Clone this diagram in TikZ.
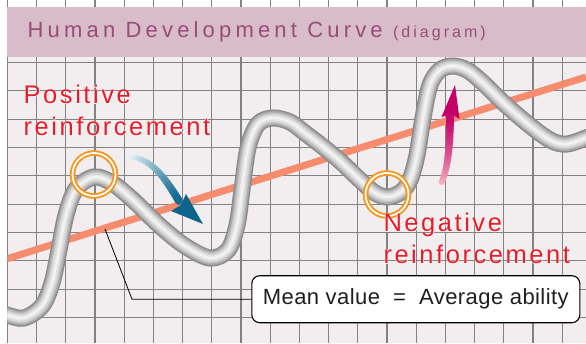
\documentclass[tikz,border=0pt]{standalone}
\usepackage{fontspec}
\setmainfont{Liberation Sans}
\newfontfamily\titlefont[LetterSpace=19]{Liberation Sans}
\newfontfamily\notefont[LetterSpace=10]{Liberation Sans}
\newfontfamily\halofont[LetterSpace=10,FakeBold=3]{Liberation Sans}
\newfontfamily\boxfont[LetterSpace=2]{Liberation Sans}
\definecolor{paper}{RGB}{242,237,239}
\definecolor{gridgray}{RGB}{130,130,130}
\definecolor{barpink}{RGB}{216,188,201}
\definecolor{titleplum}{RGB}{152,76,120}
\definecolor{meanorange}{RGB}{246,140,110}
\definecolor{notered}{RGB}{232,28,40}
\definecolor{ringorange}{RGB}{245,150,30}
\definecolor{tealdark}{RGB}{12,100,140}
\definecolor{teallight}{RGB}{225,240,246}
\definecolor{magdark}{RGB}{196,0,104}
\definecolor{maglight}{RGB}{246,175,190}
\definecolor{tubeA}{RGB}{140,140,140}
\definecolor{tubeB}{RGB}{168,168,168}
\definecolor{tubeC}{RGB}{195,195,195}
\definecolor{tubeD}{RGB}{215,215,215}
\definecolor{tubeE}{RGB}{230,230,230}
\definecolor{tubeF}{RGB}{243,243,243}
\newcommand\devcurve{plot[smooth,tension=0.55] coordinates {(0,312) (7,315) (24,318) (42,306)
  (52,283) (59,250) (66,215) (76,189) (94,177) (112,183) (133,200) (160,226) (185,246) (210,258)
  (228,250) (237,225) (242,190) (248,148) (258,124) (273,118) (290,122) (305,133) (322,146)
  (340,161) (360,180) (375,193) (388,197) (401,192) (410,180) (417,155) (423,118) (430,85)
  (440,70) (453,66) (467,70) (482,82) (507,106) (533,128) (552,141) (567,144) (586,138) (595,134)}}
\begin{document}
\begin{tikzpicture}[
    x=1pt, y=-1pt,
    gridline/.style={gridgray, line width=1.2},
    note/.style={text=notered, align=left, anchor=base west, inner sep=0,
      font=\notefont\fontsize{25.5}{31.7}\selectfont},
    halo/.style={note, text=white, font=\halofont\fontsize{25.5}{31.7}\selectfont},
    ring/.style={circle, minimum size=43, draw=ringorange, line width=1.9,
      double=white, double distance=1.7},
    meanbox/.style={draw, fill=white, rounded corners=8, line width=1.1,
      minimum width=328, minimum height=47, inner sep=0, text=black!88,
      font=\boxfont\fontsize{22}{26}\selectfont}
  ]
  \useasboundingbox (0,0) rectangle (586,343);
  \fill[white] (0,0) rectangle (586,343);
  \fill[paper] (7.3,57) rectangle (586,343);
  % grid
  \foreach \gx in {0,...,19}
    \draw[gridline] ({7.3+29.2*\gx},0) -- ({7.3+29.2*\gx},343);
  \foreach \gy in {-1,...,9}
    \draw[gridline] (7.3,{62.5+28.33*\gy}) -- (586,{62.5+28.33*\gy});
  % title bar
  \fill[barpink] (7.3,7) rectangle (586,57);
  \node[anchor=base west, inner sep=0, text=titleplum] (T) at (27.5,37.7)
    {\titlefont\fontsize{22}{22}\selectfont Human Development Curve
     {\fontsize{16}{16}\selectfont(diagram)}};
  % mean line and curve
  \begin{scope}
    \clip (7.3,57) rectangle (586,343);
    \coordinate (ML) at (0,261);
    \coordinate (MR) at (586,77);
    \draw[meanorange, line width=7] (ML) -- (MR);
    \foreach \w/\c in {17/tubeA,14/tubeB,11/tubeC,8/tubeD,5/tubeE,2/tubeF}
      \draw[line width=\w, \c] \devcurve;
  \end{scope}
  % rings
  \node[ring] (P) at (94,174.5) {};
  \node[ring] (N) at (387,194.5) {};
  % blue arrow
  \coordinate (BS) at (131,157);
  \coordinate (BE) at (179,201);
  \foreach \i in {0,...,20}
    \path (BS) .. controls (152,159) and (165,178) .. (BE) coordinate[pos=\i/20] (b\i);
  \foreach \i [evaluate=\i as \j using int(\i+1), evaluate=\i as \k using int(5*\i)] in {0,...,19}
    \draw[line width=5+0.15*\i, tealdark!\k!teallight, line cap=round] (b\i) -- (b\j);
  \fill[tealdark] (203,224) -- (186,194) -- (181,205) -- (171,211) -- cycle;
  % magenta arrow
  \coordinate (MS) at (441.7,182);
  \coordinate (ME) at (450,116);
  \foreach \i in {0,...,20}
    \path (MS) .. controls (448,168) and (450,145) .. (ME) coordinate[pos=\i/20] (m\i);
  \foreach \i [evaluate=\i as \j using int(\i+1), evaluate=\i as \k using int(5*\i)] in {0,...,19}
    \draw[line width=6+0.1*\i, magdark!\k!maglight, line cap=round] (m\i) -- (m\j);
  \fill[magdark] (455,85) -- (459.5,119) -- (451,114) -- (441.5,117) -- cycle;
  % labels
  \node[halo] (PH) at (23.5,135.2) {Positive\\reinforcement};
  \node[note] (PL) at (23.5,135.2) {Positive\\reinforcement};
  \node[halo] (NH) at (383.3,263.3) {Negative\\reinforcement};
  \node[note] (NL) at (383.3,263.3) {Negative\\reinforcement};
  % mean value box
  \node[meanbox] (M) at (415.8,299.2) {Mean value\ \ =\ \ Average ability};
  \coordinate (A) at (105,229);
  \coordinate (E) at (132,299.2);
  \draw[line width=0.8] (A) -- (E) -- (M.west);
\end{tikzpicture}
\end{document}
